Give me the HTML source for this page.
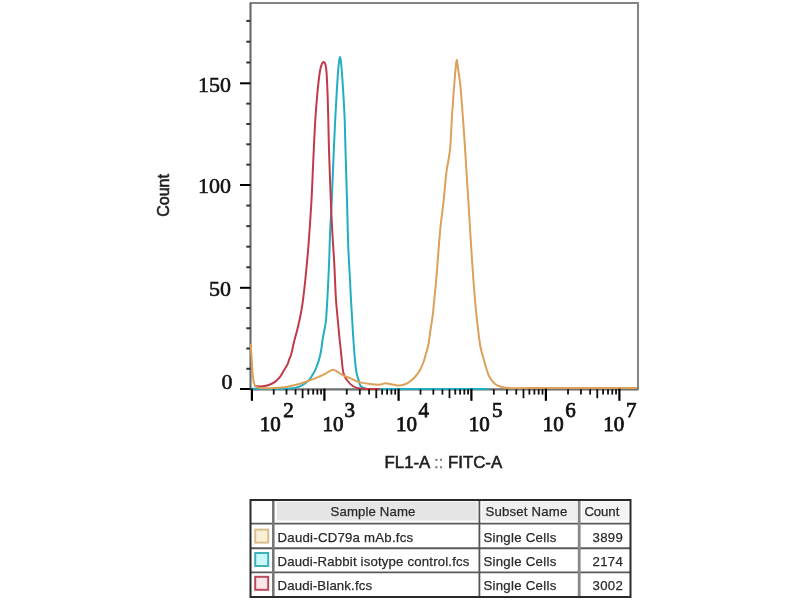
<!DOCTYPE html>
<html><head><meta charset="utf-8"><style>
html,body{margin:0;padding:0;background:#fff;width:800px;height:600px;overflow:hidden}
svg{display:block;filter:blur(0.55px)}
.serif{font-family:"Liberation Serif",serif;font-size:21px;fill:#111;stroke:#111;stroke-width:0.75px}
.ys{font-family:"Liberation Serif",serif;font-size:22px;fill:#111;stroke:#111;stroke-width:0.55px}
.sans{font-family:"Liberation Sans",sans-serif;font-size:16.8px;fill:#1e1e1e;stroke:#1e1e1e;stroke-width:0.6px}
.tbl{font-family:"Liberation Sans",sans-serif;font-size:13.2px;fill:#2a2a2a;stroke:#2a2a2a;stroke-width:0.25px}
</style></head><body>
<svg width="800" height="600" viewBox="0 0 800 600">
<rect width="800" height="600" fill="#fff"/>
<rect x="250.5" y="3" width="387.5" height="386.2" fill="none" stroke="#777" stroke-width="1.8"/>
<line x1="250.5" y1="3" x2="250.5" y2="389.2" stroke="#6a6a6a" stroke-width="1.6"/>
<line x1="240" y1="389.00" x2="250.5" y2="389.00" stroke="#000" stroke-width="2"/>
<line x1="246.3" y1="368.76" x2="250.5" y2="368.76" stroke="#333" stroke-width="2"/>
<line x1="246.3" y1="348.52" x2="250.5" y2="348.52" stroke="#333" stroke-width="2"/>
<line x1="246.3" y1="328.28" x2="250.5" y2="328.28" stroke="#333" stroke-width="2"/>
<line x1="246.3" y1="308.04" x2="250.5" y2="308.04" stroke="#333" stroke-width="2"/>
<line x1="240" y1="287.80" x2="250.5" y2="287.80" stroke="#000" stroke-width="2"/>
<line x1="246.3" y1="267.24" x2="250.5" y2="267.24" stroke="#333" stroke-width="2"/>
<line x1="246.3" y1="246.68" x2="250.5" y2="246.68" stroke="#333" stroke-width="2"/>
<line x1="246.3" y1="226.12" x2="250.5" y2="226.12" stroke="#333" stroke-width="2"/>
<line x1="246.3" y1="205.56" x2="250.5" y2="205.56" stroke="#333" stroke-width="2"/>
<line x1="240" y1="185.00" x2="250.5" y2="185.00" stroke="#000" stroke-width="2"/>
<line x1="246.3" y1="164.66" x2="250.5" y2="164.66" stroke="#333" stroke-width="2"/>
<line x1="246.3" y1="144.32" x2="250.5" y2="144.32" stroke="#333" stroke-width="2"/>
<line x1="246.3" y1="123.98" x2="250.5" y2="123.98" stroke="#333" stroke-width="2"/>
<line x1="246.3" y1="103.64" x2="250.5" y2="103.64" stroke="#333" stroke-width="2"/>
<line x1="240" y1="83.30" x2="250.5" y2="83.30" stroke="#000" stroke-width="2"/>
<line x1="246.3" y1="62.50" x2="250.5" y2="62.50" stroke="#333" stroke-width="2"/>
<line x1="246.3" y1="41.70" x2="250.5" y2="41.70" stroke="#333" stroke-width="2"/>
<line x1="246.3" y1="20.90" x2="250.5" y2="20.90" stroke="#333" stroke-width="2"/>
<text x="232.5" y="388.5" text-anchor="end" class="ys">0</text>
<text x="231" y="296.2" text-anchor="end" class="ys">50</text>
<text x="231" y="192.5" text-anchor="end" class="ys">100</text>
<text x="231" y="92.0" text-anchor="end" class="ys">150</text>
<line x1="250.5" y1="389.6" x2="638" y2="389.6" stroke="#707070" stroke-width="1.8"/>
<path d="M251.00,388.80 C254.17,388.82 265.17,388.88 270.00,388.90 C274.83,388.92 276.33,389.00 280.00,388.90 C283.67,388.80 289.00,388.62 292.00,388.30 C295.00,387.98 296.25,387.55 298.00,387.00 C299.75,386.45 301.17,385.70 302.50,385.00 C303.83,384.30 304.75,383.83 306.00,382.80 C307.25,381.77 308.83,380.27 310.00,378.80 C311.17,377.33 312.12,375.47 313.00,374.00 C313.88,372.53 314.75,371.08 315.30,370.00 C315.85,368.92 315.72,369.08 316.30,367.50 C316.88,365.92 318.15,362.58 318.80,360.50 C319.45,358.42 319.75,357.08 320.20,355.00 C320.65,352.92 321.12,350.50 321.50,348.00 C321.88,345.50 322.02,343.00 322.50,340.00 C322.98,337.00 323.82,333.33 324.40,330.00 C324.98,326.67 325.52,325.00 326.00,320.00 C326.48,315.00 326.92,306.67 327.30,300.00 C327.68,293.33 327.98,286.67 328.30,280.00 C328.62,273.33 328.88,268.33 329.20,260.00 C329.52,251.67 329.77,240.00 330.20,230.00 C330.63,220.00 331.20,213.33 331.80,200.00 C332.40,186.67 333.23,163.33 333.80,150.00 C334.37,136.67 334.78,128.33 335.20,120.00 C335.62,111.67 335.87,107.50 336.30,100.00 C336.73,92.50 337.35,81.33 337.80,75.00 C338.25,68.67 338.63,65.00 339.00,62.00 C339.37,59.00 339.67,57.00 340.00,57.00 C340.33,57.00 340.62,58.50 341.00,62.00 C341.38,65.50 341.85,71.67 342.30,78.00 C342.75,84.33 343.30,93.00 343.70,100.00 C344.10,107.00 344.40,111.67 344.70,120.00 C345.00,128.33 345.12,136.67 345.50,150.00 C345.88,163.33 346.55,184.17 347.00,200.00 C347.45,215.83 347.70,231.67 348.20,245.00 C348.70,258.33 349.53,270.83 350.00,280.00 C350.47,289.17 350.63,293.33 351.00,300.00 C351.37,306.67 351.80,313.33 352.20,320.00 C352.60,326.67 353.00,334.00 353.40,340.00 C353.80,346.00 354.20,351.33 354.60,356.00 C355.00,360.67 355.40,364.83 355.80,368.00 C356.20,371.17 356.53,373.00 357.00,375.00 C357.47,377.00 358.00,378.17 358.60,380.00 C359.20,381.83 359.37,384.53 360.60,386.00 C361.83,387.47 362.77,388.28 366.00,388.80 C369.23,389.32 359.50,389.05 380.00,389.10 C400.50,389.15 470.83,389.10 489.00,389.10" fill="none" stroke="#22aec2" stroke-width="2" stroke-linejoin="round"/>
<path d="M254.50,385.80 C255.00,385.88 256.17,386.22 257.50,386.30 C258.83,386.38 260.62,386.52 262.50,386.30 C264.38,386.08 266.72,385.73 268.80,385.00 C270.88,384.27 273.13,383.25 275.00,381.90 C276.87,380.55 278.53,378.78 280.00,376.90 C281.47,375.02 282.55,372.68 283.80,370.60 C285.05,368.52 286.63,366.17 287.50,364.40 C288.37,362.63 288.42,361.57 289.00,360.00 C289.58,358.43 290.47,356.67 291.00,355.00 C291.53,353.33 291.62,352.50 292.20,350.00 C292.78,347.50 293.67,343.33 294.50,340.00 C295.33,336.67 296.37,333.33 297.20,330.00 C298.03,326.67 298.78,323.33 299.50,320.00 C300.22,316.67 300.92,313.33 301.50,310.00 C302.08,306.67 302.37,305.00 303.00,300.00 C303.63,295.00 304.38,289.17 305.30,280.00 C306.22,270.83 307.47,258.33 308.50,245.00 C309.53,231.67 310.70,214.17 311.50,200.00 C312.30,185.83 312.67,173.33 313.30,160.00 C313.93,146.67 314.60,131.33 315.30,120.00 C316.00,108.67 316.75,100.00 317.50,92.00 C318.25,84.00 319.13,76.50 319.80,72.00 C320.47,67.50 320.97,66.62 321.50,65.00 C322.03,63.38 322.55,62.77 323.00,62.30 C323.45,61.83 323.80,61.83 324.20,62.20 C324.60,62.57 325.02,62.87 325.40,64.50 C325.78,66.13 326.13,66.92 326.50,72.00 C326.87,77.08 327.30,87.00 327.60,95.00 C327.90,103.00 328.07,110.83 328.30,120.00 C328.53,129.17 328.58,136.67 329.00,150.00 C329.42,163.33 330.27,186.67 330.80,200.00 C331.33,213.33 331.63,219.67 332.20,230.00 C332.77,240.33 333.73,253.67 334.20,262.00 C334.67,270.33 334.70,273.67 335.00,280.00 C335.30,286.33 335.53,293.33 336.00,300.00 C336.47,306.67 337.18,313.33 337.80,320.00 C338.42,326.67 339.10,334.00 339.70,340.00 C340.30,346.00 340.92,351.33 341.40,356.00 C341.88,360.67 342.20,365.00 342.60,368.00 C343.00,371.00 343.10,372.00 343.80,374.00 C344.50,376.00 345.30,378.00 346.80,380.00 C348.30,382.00 350.60,384.58 352.80,386.00 C355.00,387.42 357.13,388.00 360.00,388.50 C362.87,389.00 366.67,388.92 370.00,389.00 C373.33,389.08 378.33,389.00 380.00,389.00" fill="none" stroke="#c03a4a" stroke-width="2" stroke-linejoin="round"/>
<path d="M250.60,344.00 C250.75,346.00 251.18,351.33 251.50,356.00 C251.82,360.67 252.17,367.83 252.50,372.00 C252.83,376.17 253.08,378.75 253.50,381.00 C253.92,383.25 254.25,384.40 255.00,385.50 C255.75,386.60 256.83,387.15 258.00,387.60 C259.17,388.05 259.17,388.13 262.00,388.20 C264.83,388.27 271.67,388.12 275.00,388.00 C278.33,387.88 279.92,387.72 282.00,387.50 C284.08,387.28 285.50,387.07 287.50,386.70 C289.50,386.33 291.92,385.80 294.00,385.30 C296.08,384.80 298.00,384.30 300.00,383.70 C302.00,383.10 303.92,382.42 306.00,381.70 C308.08,380.98 310.33,380.23 312.50,379.40 C314.67,378.57 316.92,377.63 319.00,376.70 C321.08,375.77 323.25,374.72 325.00,373.80 C326.75,372.88 328.25,371.87 329.50,371.20 C330.75,370.53 331.67,369.97 332.50,369.80 C333.33,369.63 333.67,369.85 334.50,370.20 C335.33,370.55 335.96,371.00 337.50,371.90 C339.04,372.80 341.67,374.57 343.75,375.60 C345.83,376.63 348.12,377.30 350.00,378.10 C351.88,378.90 353.33,379.68 355.00,380.40 C356.67,381.12 357.50,381.80 360.00,382.40 C362.50,383.00 366.67,383.63 370.00,384.00 C373.33,384.37 377.50,384.72 380.00,384.60 C382.50,384.48 383.33,383.40 385.00,383.30 C386.67,383.20 388.33,383.72 390.00,384.00 C391.67,384.28 393.33,384.75 395.00,385.00 C396.67,385.25 398.33,385.62 400.00,385.50 C401.67,385.38 403.33,384.97 405.00,384.30 C406.67,383.63 408.33,382.72 410.00,381.50 C411.67,380.28 413.33,378.92 415.00,377.00 C416.67,375.08 418.58,372.50 420.00,370.00 C421.42,367.50 422.57,364.50 423.50,362.00 C424.43,359.50 424.80,357.83 425.60,355.00 C426.40,352.17 427.48,349.17 428.30,345.00 C429.12,340.83 429.76,335.00 430.50,330.00 C431.24,325.00 432.12,320.00 432.75,315.00 C433.38,310.00 433.68,305.83 434.25,300.00 C434.82,294.17 435.52,287.83 436.20,280.00 C436.88,272.17 437.58,261.83 438.30,253.00 C439.02,244.17 439.60,235.83 440.50,227.00 C441.40,218.17 442.73,209.00 443.70,200.00 C444.67,191.00 445.50,179.67 446.30,173.00 C447.10,166.33 447.83,164.33 448.50,160.00 C449.17,155.67 449.80,152.83 450.30,147.00 C450.80,141.17 451.15,131.17 451.50,125.00 C451.85,118.83 451.98,116.17 452.40,110.00 C452.82,103.83 453.48,94.67 454.00,88.00 C454.52,81.33 455.05,74.67 455.50,70.00 C455.95,65.33 456.28,60.33 456.70,60.00 C457.12,59.67 457.35,63.33 458.00,68.00 C458.65,72.67 459.82,80.17 460.60,88.00 C461.38,95.83 462.05,106.33 462.70,115.00 C463.35,123.67 463.78,129.17 464.50,140.00 C465.22,150.83 466.37,170.00 467.00,180.00 C467.63,190.00 467.47,186.67 468.30,200.00 C469.13,213.33 470.88,243.33 472.00,260.00 C473.12,276.67 474.12,289.50 475.00,300.00 C475.88,310.50 476.42,315.33 477.30,323.00 C478.18,330.67 479.15,339.67 480.30,346.00 C481.45,352.33 483.17,357.17 484.20,361.00 C485.23,364.83 485.62,366.33 486.50,369.00 C487.38,371.67 488.08,374.50 489.50,377.00 C490.92,379.50 492.95,382.33 495.00,384.00 C497.05,385.67 499.30,386.32 501.80,387.00 C504.30,387.68 505.30,387.92 510.00,388.10 C514.70,388.28 508.83,388.10 530.00,388.10 C551.17,388.10 619.17,388.10 637.00,388.10" fill="none" stroke="#dca058" stroke-width="2" stroke-linejoin="round"/>
<line x1="251.90" y1="388.7" x2="251.90" y2="400.8" stroke="#000" stroke-width="2.2"/>
<line x1="273.72" y1="389.2" x2="273.72" y2="394.6" stroke="#111" stroke-width="1.8"/>
<line x1="286.49" y1="389.2" x2="286.49" y2="394.6" stroke="#111" stroke-width="1.8"/>
<line x1="295.55" y1="389.2" x2="295.55" y2="394.6" stroke="#111" stroke-width="1.8"/>
<line x1="302.58" y1="389.2" x2="302.58" y2="398.2" stroke="#111" stroke-width="1.8"/>
<line x1="308.32" y1="389.2" x2="308.32" y2="394.6" stroke="#111" stroke-width="1.8"/>
<line x1="313.17" y1="389.2" x2="313.17" y2="394.6" stroke="#111" stroke-width="1.8"/>
<line x1="317.37" y1="389.2" x2="317.37" y2="394.6" stroke="#111" stroke-width="1.8"/>
<line x1="321.08" y1="389.2" x2="321.08" y2="394.6" stroke="#111" stroke-width="1.8"/>
<line x1="324.40" y1="388.7" x2="324.40" y2="400.8" stroke="#000" stroke-width="2.2"/>
<line x1="346.74" y1="389.2" x2="346.74" y2="394.6" stroke="#111" stroke-width="1.8"/>
<line x1="359.80" y1="389.2" x2="359.80" y2="394.6" stroke="#111" stroke-width="1.8"/>
<line x1="369.07" y1="389.2" x2="369.07" y2="394.6" stroke="#111" stroke-width="1.8"/>
<line x1="376.26" y1="389.2" x2="376.26" y2="398.2" stroke="#111" stroke-width="1.8"/>
<line x1="382.14" y1="389.2" x2="382.14" y2="394.6" stroke="#111" stroke-width="1.8"/>
<line x1="387.11" y1="389.2" x2="387.11" y2="394.6" stroke="#111" stroke-width="1.8"/>
<line x1="391.41" y1="389.2" x2="391.41" y2="394.6" stroke="#111" stroke-width="1.8"/>
<line x1="395.20" y1="389.2" x2="395.20" y2="394.6" stroke="#111" stroke-width="1.8"/>
<line x1="398.60" y1="388.7" x2="398.60" y2="400.8" stroke="#000" stroke-width="2.2"/>
<line x1="420.51" y1="389.2" x2="420.51" y2="394.6" stroke="#111" stroke-width="1.8"/>
<line x1="433.33" y1="389.2" x2="433.33" y2="394.6" stroke="#111" stroke-width="1.8"/>
<line x1="442.43" y1="389.2" x2="442.43" y2="394.6" stroke="#111" stroke-width="1.8"/>
<line x1="449.49" y1="389.2" x2="449.49" y2="398.2" stroke="#111" stroke-width="1.8"/>
<line x1="455.25" y1="389.2" x2="455.25" y2="394.6" stroke="#111" stroke-width="1.8"/>
<line x1="460.12" y1="389.2" x2="460.12" y2="394.6" stroke="#111" stroke-width="1.8"/>
<line x1="464.34" y1="389.2" x2="464.34" y2="394.6" stroke="#111" stroke-width="1.8"/>
<line x1="468.07" y1="389.2" x2="468.07" y2="394.6" stroke="#111" stroke-width="1.8"/>
<line x1="471.40" y1="388.7" x2="471.40" y2="400.8" stroke="#000" stroke-width="2.2"/>
<line x1="493.83" y1="389.2" x2="493.83" y2="394.6" stroke="#111" stroke-width="1.8"/>
<line x1="506.95" y1="389.2" x2="506.95" y2="394.6" stroke="#111" stroke-width="1.8"/>
<line x1="516.25" y1="389.2" x2="516.25" y2="394.6" stroke="#111" stroke-width="1.8"/>
<line x1="523.47" y1="389.2" x2="523.47" y2="398.2" stroke="#111" stroke-width="1.8"/>
<line x1="529.37" y1="389.2" x2="529.37" y2="394.6" stroke="#111" stroke-width="1.8"/>
<line x1="534.36" y1="389.2" x2="534.36" y2="394.6" stroke="#111" stroke-width="1.8"/>
<line x1="538.68" y1="389.2" x2="538.68" y2="394.6" stroke="#111" stroke-width="1.8"/>
<line x1="542.49" y1="389.2" x2="542.49" y2="394.6" stroke="#111" stroke-width="1.8"/>
<line x1="545.90" y1="388.7" x2="545.90" y2="400.8" stroke="#000" stroke-width="2.2"/>
<line x1="568.03" y1="389.2" x2="568.03" y2="394.6" stroke="#111" stroke-width="1.8"/>
<line x1="580.97" y1="389.2" x2="580.97" y2="394.6" stroke="#111" stroke-width="1.8"/>
<line x1="590.15" y1="389.2" x2="590.15" y2="394.6" stroke="#111" stroke-width="1.8"/>
<line x1="597.27" y1="389.2" x2="597.27" y2="398.2" stroke="#111" stroke-width="1.8"/>
<line x1="603.09" y1="389.2" x2="603.09" y2="394.6" stroke="#111" stroke-width="1.8"/>
<line x1="608.01" y1="389.2" x2="608.01" y2="394.6" stroke="#111" stroke-width="1.8"/>
<line x1="612.28" y1="389.2" x2="612.28" y2="394.6" stroke="#111" stroke-width="1.8"/>
<line x1="616.04" y1="389.2" x2="616.04" y2="394.6" stroke="#111" stroke-width="1.8"/>
<line x1="619.40" y1="388.7" x2="619.40" y2="400.8" stroke="#000" stroke-width="2.2"/>
<text x="259.8" y="430.5" class="serif">10</text>
<text x="283.3" y="416.5" class="serif">2</text>
<text x="322.4" y="430.5" class="serif">10</text>
<text x="344.5" y="416.5" class="serif">3</text>
<text x="395.9" y="430.5" class="serif">10</text>
<text x="418.5" y="416.5" class="serif">4</text>
<text x="468.8" y="430.5" class="serif">10</text>
<text x="492" y="416.5" class="serif">5</text>
<text x="542.8" y="430.5" class="serif">10</text>
<text x="565.3" y="416.5" class="serif">6</text>
<text x="603.3" y="430.5" class="serif">10</text>
<text x="626" y="416.5" class="serif">7</text>
<text x="0" y="0" class="sans" style="font-size:16px" transform="translate(168.6,216.8) rotate(-90)">Count</text>
<text x="384.6" y="467.5" class="sans">FL1-A <tspan style="fill:#777;stroke:#777;stroke-width:0.3px">::</tspan> FITC-A</text>
<rect x="276.8" y="501.6" width="200.8" height="19" fill="#e5e5e5"/>
<rect x="481.6" y="501.6" width="95.5" height="19" fill="#efefef"/>
<rect x="581.8" y="501.6" width="46.5" height="19" fill="#f3f3f3"/>
<line x1="250.5" y1="523.6" x2="630.5" y2="523.6" stroke="#5a5a5a" stroke-width="1.9"/>
<line x1="250.5" y1="548.2" x2="630.5" y2="548.2" stroke="#5a5a5a" stroke-width="1.9"/>
<line x1="250.5" y1="572.4" x2="630.5" y2="572.4" stroke="#5a5a5a" stroke-width="1.9"/>
<line x1="273.3" y1="500" x2="273.3" y2="597" stroke="#777" stroke-width="2.6"/>
<line x1="479.4" y1="500" x2="479.4" y2="597" stroke="#555" stroke-width="1.8"/>
<line x1="579.2" y1="500" x2="579.2" y2="597" stroke="#888" stroke-width="2.8"/>
<rect x="250.5" y="500" width="380.0" height="97" fill="none" stroke="#2a2a2a" stroke-width="2"/>
<rect x="255.2" y="529.6" width="13" height="13" fill="#fbf0d6" stroke="#d9bf8c" stroke-width="2"/>
<rect x="255.2" y="553.0" width="13" height="13" fill="#c9f7fb" stroke="#3fb0ba" stroke-width="2"/>
<rect x="255.2" y="576.8" width="13" height="13" fill="#fbe6ea" stroke="#b84a5a" stroke-width="2"/>
<text id="h1" x="330.60" y="516" class="tbl" textLength="84.76">Sample Name</text>
<text id="h2" x="485.40" y="516" class="tbl" textLength="82.01">Subset Name</text>
<text id="h3" x="584.40" y="516" class="tbl" textLength="34.90">Count</text>
<text id="n0" x="277.60" y="541.5" class="tbl" textLength="135.55">Daudi-CD79a mAb.fcs</text>
<text id="s0" x="483.40" y="541.5" class="tbl" textLength="72.84">Single Cells</text>
<text id="c0" x="592.40" y="541.5" class="tbl" textLength="30.54">3899</text>
<text id="n1" x="277.60" y="565.8" class="tbl" textLength="191.79">Daudi-Rabbit isotype control.fcs</text>
<text id="s1" x="483.40" y="565.8" class="tbl" textLength="72.84">Single Cells</text>
<text id="c1" x="592.40" y="565.8" class="tbl" textLength="30.54">2174</text>
<text id="n2" x="277.60" y="590" class="tbl" textLength="94.46">Daudi-Blank.fcs</text>
<text id="s2" x="483.40" y="590" class="tbl" textLength="72.84">Single Cells</text>
<text id="c2" x="592.40" y="590" class="tbl" textLength="30.54">3002</text>
</svg>
</body></html>
